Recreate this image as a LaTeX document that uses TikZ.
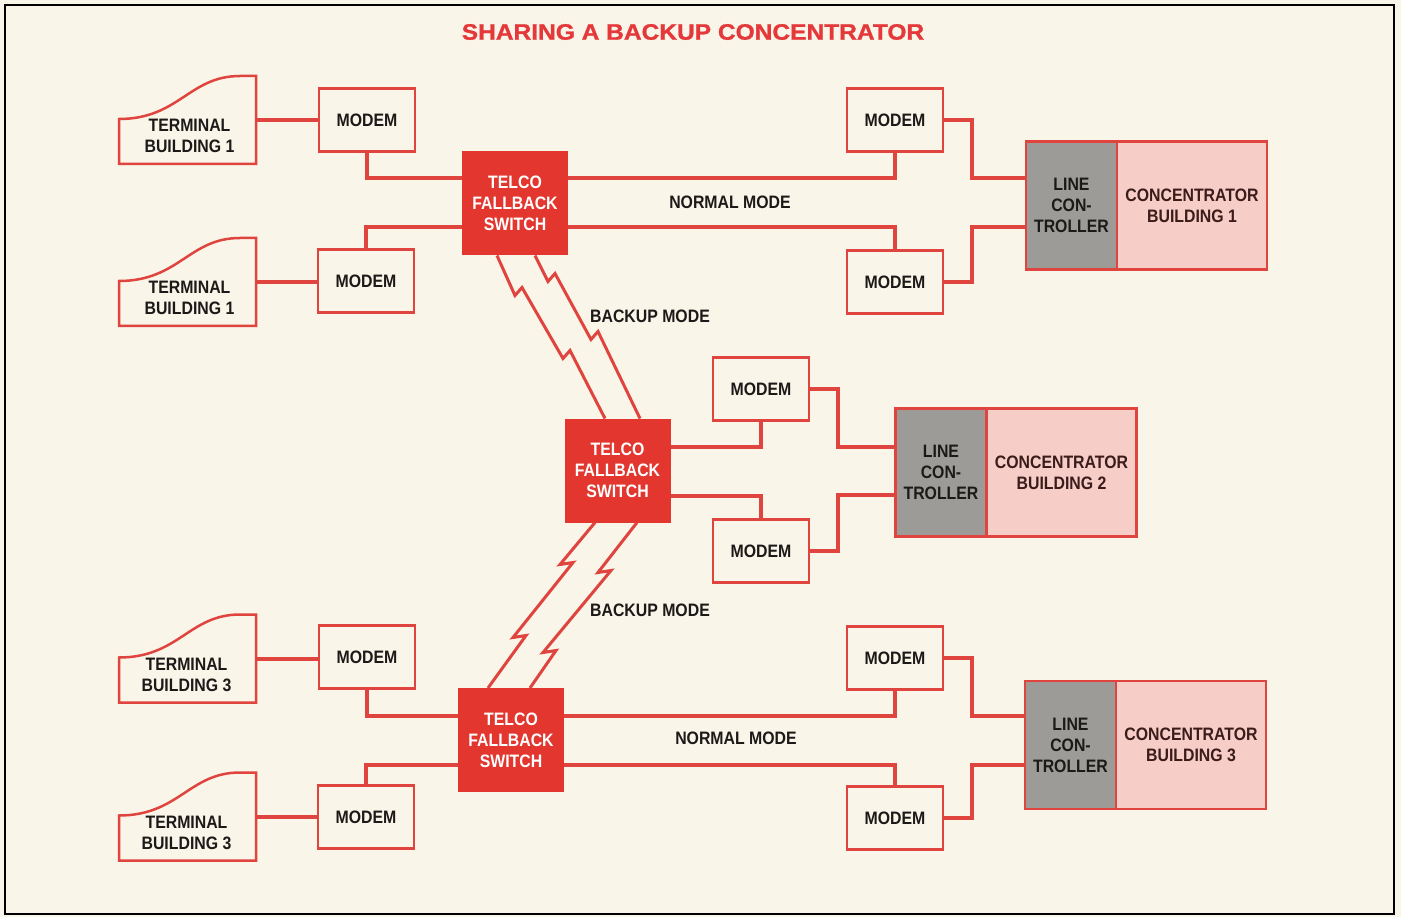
\documentclass[tikz,border=0pt]{standalone}
\usepackage{fontspec}
\setmainfont{Liberation Sans}[FakeStretch=0.88]
\newfontfamily\headfont{Liberation Sans}[FakeStretch=1.1, FakeBold=1.2]
\usetikzlibrary{positioning}
\definecolor{paper}{HTML}{FAF5E9}
\definecolor{linkred}{HTML}{E0443E}
\definecolor{switchred}{HTML}{E2362F}
\definecolor{titlered}{HTML}{E5383A}
\definecolor{concpink}{HTML}{F6CDC7}
\definecolor{ctrlgrey}{HTML}{9D9B98}
\definecolor{labelink}{HTML}{1C1A18}
\definecolor{concink}{HTML}{3B1C1A}
\newcommand{\boxfont}{\fontsize{18}{21}\selectfont\bfseries}
% outline of a terminal: straight sides, curved top edge
\newcommand{\termoutline}[1]{%
  \draw[termline] (#1.south west) -- ([shift={(0,-45)}]#1.south west)
    .. controls ([shift={(60,43)}]#1.north west) and ([shift={(70,0)}]#1.north west)
    .. ([shift={(-16,0)}]#1.north east) -- (#1.north east) -- (#1.south east) -- cycle;}

\begin{document}
\begin{tikzpicture}[
  x=1pt,
  y=-1pt,
  every node/.style={font=\boxfont, labelink, align=center, inner sep=0pt, outer sep=0pt},
  box/.style={draw=linkred, line width=2.5pt},
  modembox/.style={box, fill=paper, minimum width=96pt, minimum height=63pt},
  switchbox/.style={fill=switchred, text=white, minimum width=106pt, minimum height=104pt},
  termbox/.style={minimum width=137pt, minimum height=88pt},
  termline/.style={linkred, line width=2.5pt},
  ctrlbox/.style={box, fill=ctrlgrey, minimum width=91pt, minimum height=128pt},
  concbox/.style={box, fill=concpink, text=concink, minimum width=150pt, minimum height=128pt},
  link/.style={linkred, line width=4pt},
  backup/.style={linkred, line width=3pt}
]
  % ---- sheet and frame -------------------------------------------------
  \useasboundingbox (0,0) rectangle (1401,917);
  \fill[paper] (0,0) rectangle (1401,917);
  \draw[black, line width=2.5pt] (5,5) rectangle (1394,914);

  \node[font={\headfont\bfseries\fontsize{22.3}{26}\selectfont}, text=titlered]
    (title) at (693,32) {SHARING A BACKUP CONCENTRATOR};

  % ---- terminals -------------------------------------------------------
  \node[termbox] (tA) at (187.5,120) {};
  \node[termbox] (tB) at (187.5,282) {};
  \node[termbox] (tC) at (187.5,658.5) {};
  \node[termbox] (tD) at (187.5,816.5) {};
  \termoutline{tA}
  \termoutline{tB}
  \termoutline{tC}
  \termoutline{tD}
  \node (tA-text) at ([shift={(2,16)}]tA.center) {TERMINAL\\BUILDING 1};
  \node (tB-text) at ([shift={(2,16)}]tB.center) {TERMINAL\\BUILDING 1};
  \node (tC-text) at ([shift={(-1,16)}]tC.center) {TERMINAL\\BUILDING 3};
  \node (tD-text) at ([shift={(-1,16)}]tD.center) {TERMINAL\\BUILDING 3};

  % ---- modems ----------------------------------------------------------
  \node[modembox] (mA) at (367,120) {MODEM};
  \node[modembox] (mB) at (366,281) {MODEM};
  \node[modembox] (mC) at (367,657) {MODEM};
  \node[modembox] (mD) at (366,817) {MODEM};
  \node[modembox] (mE) at (895,120) {MODEM};
  \node[modembox] (mF) at (895,282) {MODEM};
  \node[modembox] (mG) at (895,658) {MODEM};
  \node[modembox] (mH) at (895,818) {MODEM};
  \node[modembox] (mI) at (761,389) {MODEM};
  \node[modembox] (mJ) at (761,551) {MODEM};

  % ---- fallback switches -----------------------------------------------
  \node[switchbox] (sA) at (515,203.5) {TELCO\\FALLBACK\\SWITCH};
  \node[switchbox] (sB) at (617.5,470.5) {TELCO\\FALLBACK\\SWITCH};
  \node[switchbox] (sC) at (511,740) {TELCO\\FALLBACK\\SWITCH};

  % ---- concentrators ---------------------------------------------------
  \node[ctrlbox] (lcA) at (1071.5,205.5) {LINE\\CON-\\TROLLER};
  \node[concbox, right=0pt of lcA] (ccA) {CONCENTRATOR\\BUILDING 1};
  \node[ctrlbox] (lcB) at (941,472.5) {LINE\\CON-\\TROLLER};
  \node[concbox, right=0pt of lcB] (ccB) {CONCENTRATOR\\BUILDING 2};
  \node[ctrlbox] (lcC) at (1070.5,745) {LINE\\CON-\\TROLLER};
  \node[concbox, right=0pt of lcC] (ccC) {CONCENTRATOR\\BUILDING 3};

  % ---- terminal to modem -----------------------------------------------
  \draw[link] (tA.east) -- (tA.east -| mA.west);
  \draw[link] (tB.east) -- (tB.east -| mB.west);
  \draw[link] (tC.east) -- (tC.east -| mC.west);
  \draw[link] (tD.east) -- (tD.east -| mD.west);

  % ---- modem to switch, both sides -------------------------------------
  \draw[link] (mA.south) |- ([yshift=25pt]sA.west);
  \draw[link] (mB.north) |- ([yshift=-24pt]sA.west);
  \draw[link] ([yshift=25pt]sA.east) -| (mE.south);
  \draw[link] ([yshift=-24pt]sA.east) -| (mF.north);

  \draw[link] ([yshift=23.5pt]sB.east) -| (mI.south);
  \draw[link] ([yshift=-25.5pt]sB.east) -| (mJ.north);

  \draw[link] (mC.south) |- ([yshift=24pt]sC.west);
  \draw[link] (mD.north) |- ([yshift=-25pt]sC.west);
  \draw[link] ([yshift=24pt]sC.east) -| (mG.south);
  \draw[link] ([yshift=-25pt]sC.east) -| (mH.north);

  % ---- modem to line controller ----------------------------------------
  \draw[link] (mE.east) -- ++(29,0) |- ([yshift=27pt]lcA.west);
  \draw[link] (mF.east) -- ++(29,0) |- ([yshift=-22pt]lcA.west);
  \draw[link] (mI.east) -- ++(29,0) |- ([yshift=25.5pt]lcB.west);
  \draw[link] (mJ.east) -- ++(29,0) |- ([yshift=-22.5pt]lcB.west);
  \draw[link] (mG.east) -- ++(29,0) |- ([yshift=29pt]lcC.west);
  \draw[link] (mH.east) -- ++(29,0) |- ([yshift=-20pt]lcC.west);

  % ---- backup lines between switches -----------------------------------
  \draw[backup] ([xshift=-18pt]sA.south) -- ++(18,40) -- ++(7,-8)
    -- ++(41,71) -- ++(7,-8) -- ([xshift=-12.5pt]sB.north);
  \draw[backup] ([xshift=20pt]sA.south) -- ++(13,26) -- ++(7,-8)
    -- ++(36,66) -- ++(7,-8) -- ([xshift=22.5pt]sB.north);
  \draw[backup] ([xshift=-22.5pt]sB.south) -- ++(-35,42) -- ++(13,-2)
    -- ++(-60,75) -- ++(13,-2) -- ([xshift=-23pt]sC.north);
  \draw[backup] ([xshift=19.5pt]sB.south) -- ++(-39,50) -- ++(13,-2)
    -- ++(-68,82) -- ++(13,-2) -- ([xshift=19pt]sC.north);

  % ---- line labels -----------------------------------------------------
  \node (normalA) at (730,202) {NORMAL MODE};
  \node (normalC) at (736,738) {NORMAL MODE};
  \node (backupA) at (650,316) {BACKUP MODE};
  \node (backupC) at (650,610) {BACKUP MODE};

\end{tikzpicture}
\end{document}
